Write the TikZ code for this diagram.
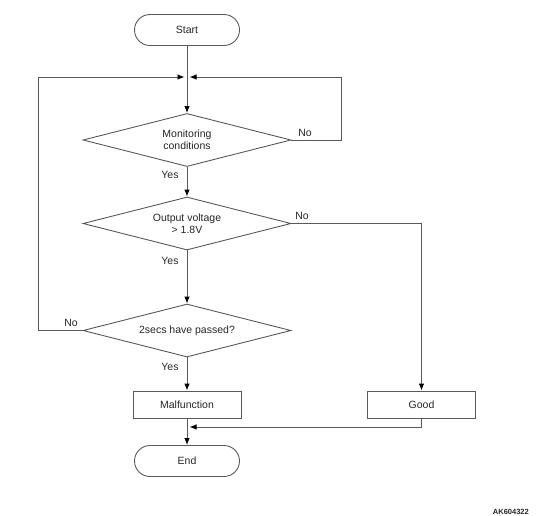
\documentclass[tikz,border=0pt]{standalone}
\usepackage{fontspec}
\setmainfont{Liberation Sans}
\usetikzlibrary{shapes.geometric,arrows.meta}
\definecolor{ln}{gray}{0.35}
\definecolor{tx}{gray}{0.15}
\tikzset{
  base/.style={draw=ln, line width=0.9pt, text=tx, font=\fontsize{10.5}{12}\selectfont, align=center},
  term/.style={base, rounded corners=15.5pt, minimum width=105pt, minimum height=31pt, inner sep=0pt},
  proc/.style={base, rectangle, minimum width=108pt, minimum height=27pt, inner sep=0pt},
  dec/.style={base, diamond, aspect=3.9, minimum width=208pt, minimum height=53pt, inner sep=0pt},
  lbl/.style={text=tx, font=\fontsize{10.5}{12}\selectfont, inner sep=0pt},
  conn/.style={draw=ln, line width=0.9pt},
  arr/.style={conn, -{Latex[length=7pt,width=5.5pt,color=black]}}
}
\begin{document}
\begin{tikzpicture}[x=1pt,y=-1pt]
\useasboundingbox (0,0) rectangle (548,515);
\node[term] (start) at (187,30) {Start};
\node[dec] (d1) at (187,140) {Monitoring\\conditions};
\node[dec] (d2) at (187,223.5) {Output voltage\\> 1.8V};
\node[dec] (d3) at (187,330.5) {2secs have passed?};
\node[proc] (mal) at (187,404.5) {Malfunction};
\node[proc] (good) at (421.5,404.5) {Good};
\node[term] (end) at (187,461) {End};
\coordinate (j) at (187,77);
\coordinate (jl) at (184.5,77);
\coordinate (jr) at (189.5,77);
\coordinate (j2) at (187,427);
\coordinate (j2r) at (189.5,427);
% connectors
\draw[conn] (start.south) -- (j);
\draw[arr] (j) -- (d1.north);
\draw[arr] (d1.south) -- (d2.north);
\draw[arr] (d2.south) -- (d3.north);
\draw[arr] (d3.south) -- (mal.north);
\draw[arr] (mal.south) -- (end.north);
\draw[arr] (d1.east) -- (341,140) -- (341,77) -- (jr);
\draw[arr] (d3.west) -- (38,330.5) -- (38,77) -- (jl);
\draw[arr] (d2.east) -- (good.north |- d2.east) -- (good.north);
\draw[arr] (good.south) -- (good.south |- j2) -- (j2r);
% labels
\node[lbl] at (305,133) {No};
\node[lbl] at (170,175) {Yes};
\node[lbl] at (302,216) {No};
\node[lbl] at (170,261) {Yes};
\node[lbl] at (71,323) {No};
\node[lbl] at (170,367) {Yes};
\node[lbl, font=\fontsize{7.5}{8}\selectfont\bfseries, anchor=base east] at (529,514) {AK604322};
\end{tikzpicture}
\end{document}
